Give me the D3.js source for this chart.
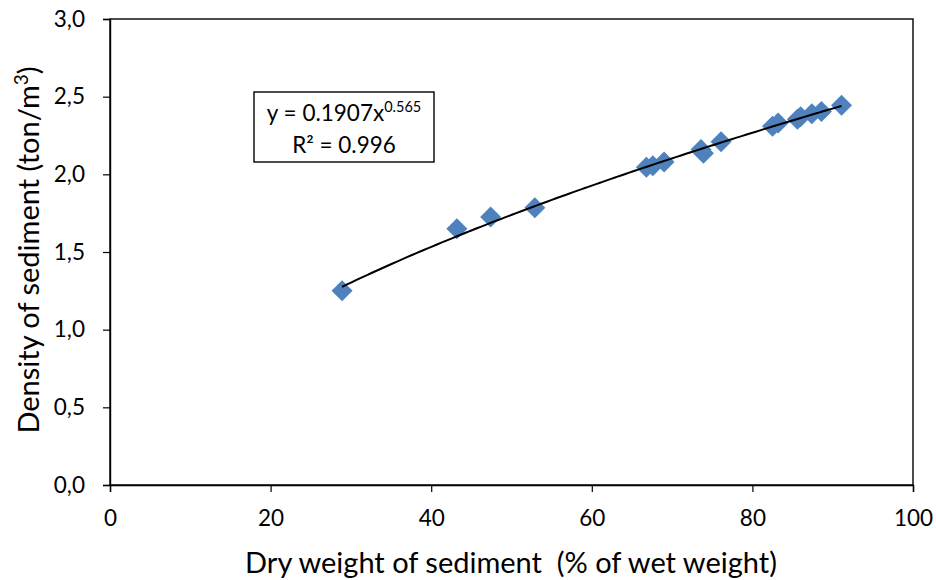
<!DOCTYPE html>
<html>
<head>
<meta charset="utf-8">
<script src="https://cdn.jsdelivr.net/npm/d3@7/dist/d3.min.js"></script>
<style>
  html, body { margin: 0; padding: 0; background: #fff; }
  svg { display: block; font-family: Lato, "Open Sans", sans-serif; }
</style>
</head>
<body>
<svg id="chart" width="936" height="580"></svg>
<script>
// ---- Data ----
const dryWeight = [28.9, 43.2, 47.4, 52.9, 66.8, 67.6, 69.0, 73.6, 73.9, 76.1, 82.5, 83.2, 85.6, 86.0, 87.4, 88.6, 91.1];
const density   = [1.25, 1.65, 1.725, 1.785, 2.045, 2.055, 2.08, 2.16, 2.135, 2.21, 2.31, 2.33, 2.355, 2.37, 2.39, 2.405, 2.445];
const xTicks = [0, 20, 40, 60, 80, 100];
const yTicks = [0, 0.5, 1.0, 1.5, 2.0, 2.5, 3.0];
// Power trendline reported on the chart: y = a * x^b
const trendA = 0.1907;
const trendB = 0.565;
const trendR2 = "0.996";

const svg = d3.select("#chart");
const margin = { left: 110, right: 23, top: 19, bottom: 95 };
const W = 936, H = 580;

const x = d3.scaleLinear().domain([0, 100]).range([margin.left, W - margin.right]);
const y = d3.scaleLinear().domain([0, 3]).range([H - margin.bottom, margin.top]);

const fmtComma = d => d3.format(".1f")(d).replace(".", ",");

// plot area box
svg.append("rect")
  .attr("x", x(0)).attr("y", y(3))
  .attr("width", x(100) - x(0)).attr("height", y(0) - y(3))
  .attr("fill", "none").attr("stroke", "#000").attr("stroke-width", 1.4);

// axes
const xAxis = d3.axisBottom(x).tickValues(xTicks).tickSize(7).tickPadding(18).tickFormat(d3.format("d"));
const gx = svg.append("g").attr("transform", `translate(0,${y(0)})`).call(xAxis);
const yAxis = d3.axisLeft(y).tickValues(yTicks).tickSize(7).tickPadding(18).tickFormat(fmtComma);
const gy = svg.append("g").attr("transform", `translate(${x(0)},0)`).call(yAxis);

[gx, gy].forEach(g => {
  g.select(".domain").attr("stroke", "#000").attr("stroke-width", 1.4);
  g.selectAll(".tick line").attr("stroke", "#000").attr("stroke-width", 1.2);
  g.selectAll(".tick text").attr("fill", "#000").style("font-size", "22.5px")
    .style("font-family", "Lato, 'Open Sans', sans-serif");
});

// trendline curve (from the fitted equation)
const xMin = d3.min(dryWeight), xMax = d3.max(dryWeight);
const curvePts = d3.range(0, 101).map(i => {
  const xv = xMin + (xMax - xMin) * i / 100;
  return [xv, trendA * Math.pow(xv, trendB)];
});

// markers
const diamond = "M0,-10.5L10.5,0L0,10.5L-10.5,0Z";
svg.append("g").selectAll("path")
  .data(dryWeight.map((d, i) => [d, density[i]]))
  .join("path")
  .attr("d", diamond)
  .attr("transform", d => `translate(${x(d[0])},${y(d[1])})`)
  .attr("fill", "#4F81BD");

svg.append("path")
  .datum(curvePts)
  .attr("d", d3.line().x(d => x(d[0])).y(d => y(d[1])).curve(d3.curveMonotoneX))
  .attr("fill", "none").attr("stroke", "#000").attr("stroke-width", 2);

// equation box
const box = svg.append("g").attr("transform", "translate(254,92)");
box.append("rect").attr("width", 180).attr("height", 70)
  .attr("fill", "#fff").attr("stroke", "#000").attr("stroke-width", 1.4);
const eq = box.append("text").attr("x", 90).attr("y", 29).attr("text-anchor", "middle")
  .style("font-size", "22.5px").attr("fill", "#000");
eq.append("tspan").text("y = " + trendA + "x");
eq.append("tspan").attr("dy", -9).style("font-size", "14.5px").text(String(trendB));
box.append("text").attr("x", 90).attr("y", 61).attr("text-anchor", "middle")
  .style("font-size", "22.5px").attr("fill", "#000")
  .text("R² = " + trendR2);

// axis titles
svg.append("text")
  .attr("x", 511).attr("y", 573)
  .attr("text-anchor", "middle")
  .attr("xml:space", "preserve")
  .style("white-space", "pre")
  .style("font-size", "29px").attr("fill", "#000")
  .text("Dry weight of sediment  (% of wet weight)");

const yt = svg.append("text")
  .attr("transform", "translate(39,250) rotate(-90)")
  .attr("text-anchor", "middle")
  .style("font-size", "29px").attr("fill", "#000");
yt.append("tspan").text("Density of sediment (ton/m");
yt.append("tspan").attr("dy", -11).style("font-size", "19px").text("3");
yt.append("tspan").attr("dy", 11).text(")");
</script>
</body>
</html>
